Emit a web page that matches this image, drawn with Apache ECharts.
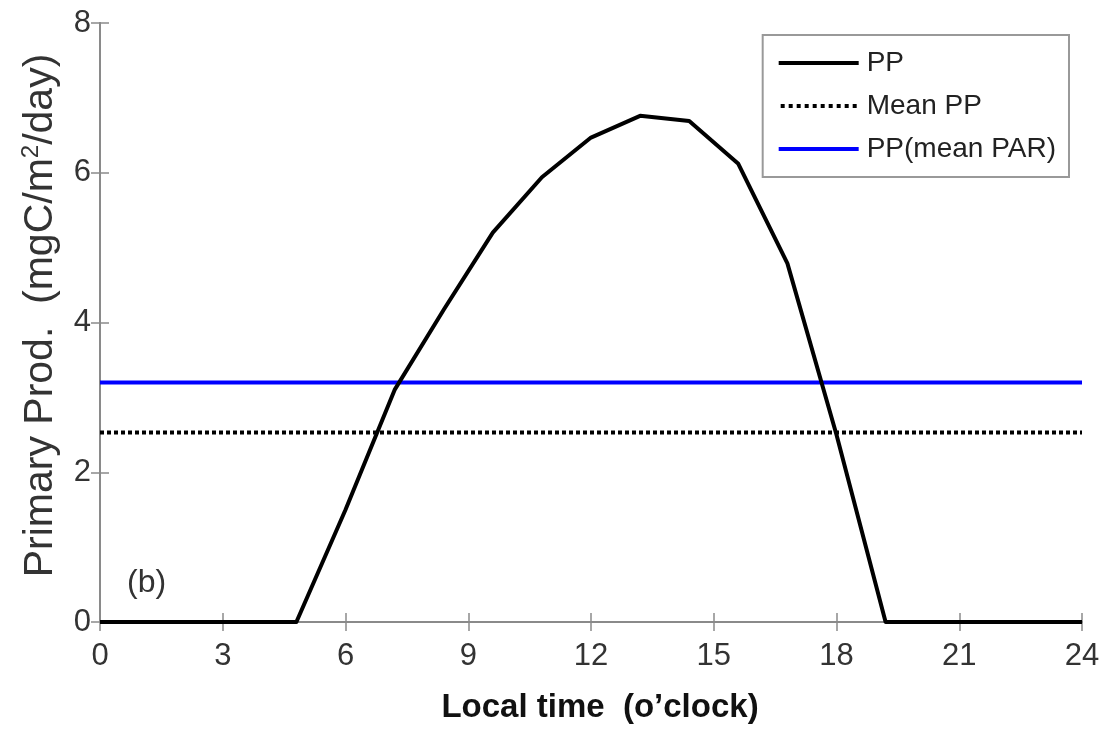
<!DOCTYPE html>
<html>
<head>
<meta charset="utf-8">
<script src="https://cdn.jsdelivr.net/npm/echarts@6/dist/echarts.min.js"></script>
<style>
html,body{margin:0;padding:0;background:#fff;}
#chart{width:1116px;height:729px;}
</style>
</head>
<body>
<div id="chart"></div>
<script>
// ---- data ----
const hours = [0, 1.2, 2.4, 3.6, 4.8, 6.0, 7.2, 8.4, 9.6, 10.8, 12.0, 13.2, 14.4, 15.6, 16.8, 18.0, 19.2, 20.4, 21.6, 22.8, 24];
const ppValues = [0, 0, 0, 0, 0, 1.5, 3.1, 4.17, 5.2, 5.94, 6.47, 6.76, 6.69, 6.12, 4.79, 2.5, 0, 0, 0, 0, 0];
const meanPPHours = [0, 24];
const meanPPValues = [2.53, 2.53];
const ppMeanPARHours = [0, 24];
const ppMeanPARValues = [3.2, 3.2];
const seriesNames = ['PP', 'Mean PP', 'PP(mean PAR)'];
const xTicks = [0, 3, 6, 9, 12, 15, 18, 21, 24];
const yTicks = [0, 2, 4, 6, 8];
const panelLabel = '(b)';

const pairs = (xs, ys) => xs.map((x, i) => [x, ys[i]]);
const SANS = '"Liberation Sans", Arial, Helvetica, sans-serif';
const frameColor = '#8a8a8a';

// legend icons (drawn as filled shapes so the line styles show in the legend)
const solidIcon = 'path://M0,0h80v4h-80z';
let dots = '';
for (let i = 0; i < 10; i++) { dots += 'M' + (i * 8) + ',0h4v4h-4z '; }
const dottedIcon = 'path://' + dots.trim();

const chart = echarts.init(document.getElementById('chart'), null, {renderer: 'canvas'});

const xBase = {
  type: 'value', min: xTicks[0], max: xTicks[xTicks.length - 1], interval: 3,
  splitLine: {show: false},
  axisLine: {show: true, lineStyle: {color: frameColor, width: 2}},
  axisTick: {show: true, inside: true, length: 9, lineStyle: {color: frameColor, width: 1.5}}
};
const yBase = {
  type: 'value', min: yTicks[0], max: yTicks[yTicks.length - 1], interval: 2,
  splitLine: {show: false},
  axisLine: {show: true, lineStyle: {color: frameColor, width: 2}},
  axisTick: {show: true, inside: true, length: 9, lineStyle: {color: frameColor, width: 1.5}}
};

chart.setOption({
  animation: false,
  backgroundColor: '#fff',
  grid: {left: 100, right: 34, top: 23, bottom: 107, containLabel: false},
  xAxis: [
    Object.assign({}, xBase, {
      position: 'bottom',
      axisLabel: {show: true, margin: 19, color: '#333', fontFamily: SANS, fontSize: 31},
      name: 'Local time  (o\u2019clock)',
      nameLocation: 'middle', nameGap: 69,
      nameTextStyle: {color: '#111', fontFamily: SANS, fontWeight: 'bold', fontSize: 33, padding: [0, 0, 0, 18]}
    }),
    Object.assign({}, xBase, {position: 'top', axisLabel: {show: false}})
  ],
  yAxis: [
    Object.assign({}, yBase, {
      position: 'left',
      axisLabel: {show: true, margin: 9, color: '#333', fontFamily: SANS, fontSize: 31},
      name: 'Primary Prod.  (mgC/m{sup|2}/day)',
      nameLocation: 'middle', nameGap: 38, nameRotate: 90,
      nameTextStyle: {
        color: '#333', fontFamily: SANS, fontSize: 41, lineHeight: 43, padding: [0, 0, 0, 14],
        rich: {sup: {fontFamily: SANS, fontSize: 24, color: '#333', verticalAlign: 'top', lineHeight: 43, padding: [0, 0, 16, 0]}}
      }
    }),
    Object.assign({}, yBase, {position: 'right', axisLabel: {show: false}})
  ],
  legend: {
    show: true,
    orient: 'vertical',
    right: 47, top: 35,
    data: [
      {name: seriesNames[0], icon: solidIcon},
      {name: seriesNames[1], icon: dottedIcon},
      {name: seriesNames[2], icon: solidIcon}
    ],
    itemWidth: 80, itemHeight: 4, itemGap: 13,
    padding: [13, 13, 13, 16],
    backgroundColor: '#fff',
    borderColor: '#999', borderWidth: 2, borderRadius: 0,
    textStyle: {color: '#222', fontFamily: SANS, fontSize: 28, lineHeight: 30, padding: [0, 0, 0, 3]}
  },
  graphic: [{
    type: 'text', left: 127, top: 567,
    style: {text: panelLabel, fill: '#333', font: '32px ' + SANS}
  }],
  series: [
    {
      name: seriesNames[0], type: 'line', data: pairs(hours, ppValues),
      symbol: 'none', z: 5,
      lineStyle: {color: '#000', width: 4, join: 'round'}, itemStyle: {color: '#000'}
    },
    {
      name: seriesNames[1], type: 'line', data: pairs(meanPPHours, meanPPValues),
      symbol: 'none', z: 3,
      lineStyle: {color: '#000', width: 4, type: [4, 3], cap: 'butt'}, itemStyle: {color: '#000'}
    },
    {
      name: seriesNames[2], type: 'line', data: pairs(ppMeanPARHours, ppMeanPARValues),
      symbol: 'none', z: 4,
      lineStyle: {color: '#0000ff', width: 4}, itemStyle: {color: '#0000ff'}
    }
  ]
});
</script>
</body>
</html>
